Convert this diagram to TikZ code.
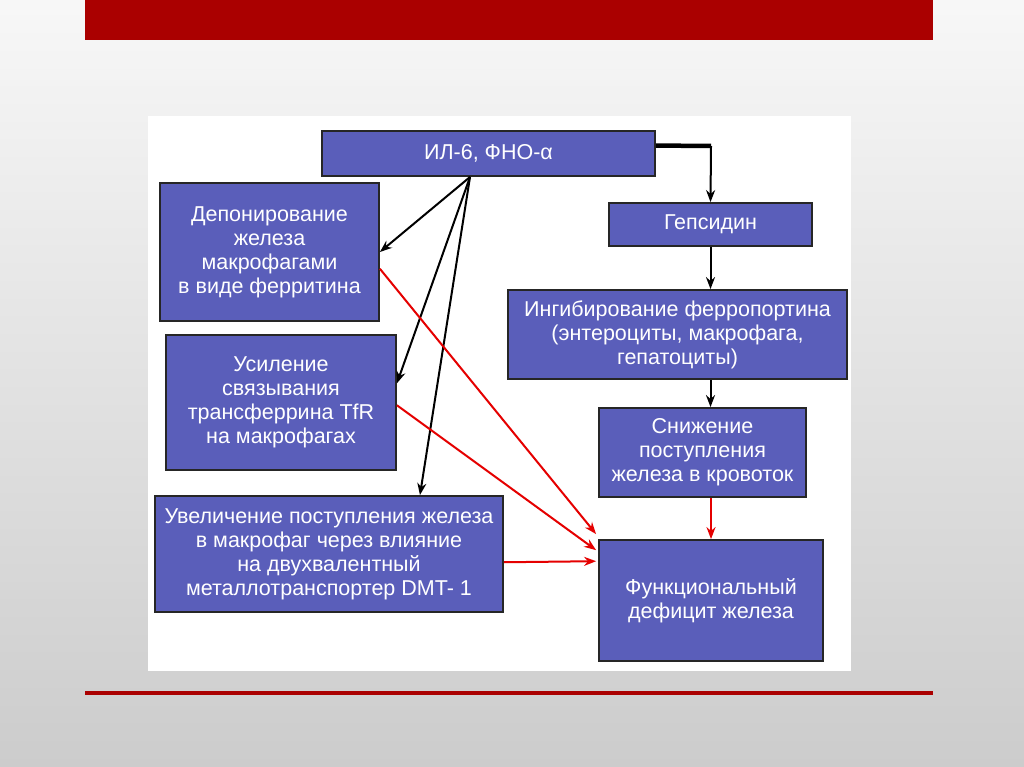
\documentclass[tikz,border=0pt]{standalone}
\usepackage{fontspec}
\setmainfont{Liberation Sans}
\usetikzlibrary{arrows.meta,calc}
\usepackage{xcolor}
\definecolor{boxblue}{RGB}{90,94,186}
\definecolor{barred}{RGB}{170,0,0}
\tikzset{
  box/.style={draw=black!85,line width=1.8pt,fill=boxblue,text=white,align=center,inner sep=0pt,font=\fontsize{21.5}{24}\selectfont},
  blk/.style={line width=2pt,-{Stealth[length=12pt,width=9pt]}},
  redarr/.style={red!90!black,line width=2pt,-{Stealth[length=12pt,width=9pt]}}
}

\begin{document}
\begin{tikzpicture}[x=1pt,y=-1pt]
  \useasboundingbox (0,0) rectangle (1024,767);
  \shade[top color=black!3,bottom color=black!20] (0,0) rectangle (1024,767);
  \fill[barred] (85,0) rectangle (933,40);
  \draw[barred,line width=3.5pt] (85,693) -- (933,693);
  \fill[white] (148,116) rectangle (851,671);
  \node[box,minimum width=333,minimum height=45] (il) at (488.5,153.5){ИЛ-6, ФНО-α};
  \node[box,minimum width=219,minimum height=138] (depo) at (269.5,252){Депонирование\\железа\\макрофагами\\в виде ферритина};
  \node[box,minimum width=230,minimum height=135] (usil) at (281,402.5){Усиление\\связывания\\трансферрина TfR\\на макрофагах};
  \node[box,minimum width=348,minimum height=116] (uvel) at (329,554){Увеличение поступления железа\\в макрофаг через влияние\\на двухвалентный\\металлотранспортер DMT- 1};
  \node[box,minimum width=203,minimum height=43] (heps) at (710.5,224.5){Гепсидин};
  \node[box,minimum width=339,minimum height=89] (ingib) at (677.5,334.5){Ингибирование ферропортина\\(энтероциты, макрофага,\\гепатоциты)};
  \node[box,minimum width=207,minimum height=89] (sniz) at (702.5,452.5){Снижение\\поступления\\железа в кровоток};
  \node[box,minimum width=224,minimum height=121] (func) at (711,600.5){Функциональный\\дефицит железа};
  \coordinate (fan) at (470,177);
  \coordinate (elbow) at (711,146);
  \draw[line width=4.5pt] ($(il.north east)!0.33!(il.south east)$) -- (elbow);
  \draw[blk] (elbow) -- (heps.north);
  \draw[blk] (heps.south) -- (heps.south |- ingib.north);
  \draw[blk] (heps.south |- ingib.south) -- (heps.south |- sniz.north);
  \draw[redarr] (sniz.south -| func.north) -- (func.north);
  \draw[blk] (fan) -- (depo.east);
  \draw[blk] (fan) -- ($(usil.north east)!0.36!(usil.south east)$);
  \draw[blk] (fan) -- ($(uvel.north west)!0.76!(uvel.north east)$);
  \draw[redarr] ($(depo.north east)!0.62!(depo.south east)$) -- ($(func.north west)+(-2,-5)$);
  \draw[redarr] ($(usil.north east)!0.52!(usil.south east)$) -- ($(func.north west)!0.09!(func.south west)+(-2,0)$);
  \draw[redarr] ($(uvel.north east)!0.57!(uvel.south east)$) -- ($(func.north west)!0.18!(func.south west)+(-2,0)$);
\end{tikzpicture}
\end{document}
